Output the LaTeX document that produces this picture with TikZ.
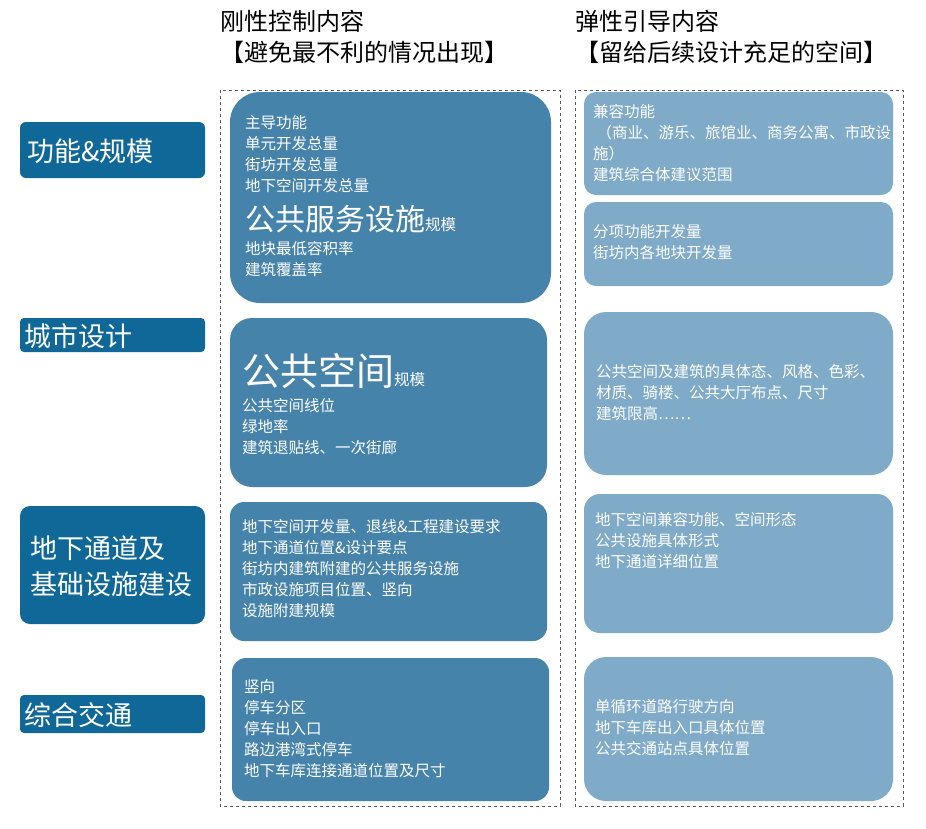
\documentclass[tikz,border=0pt]{standalone}
\usepackage{fontspec}
\setmainfont{Noto Sans CJK SC}
\definecolor{dk}{HTML}{0F6897}
\definecolor{md}{HTML}{4683AA}
\definecolor{lt}{HTML}{7FABC8}
\begin{document}
\begin{tikzpicture}[x=1pt,y=-1pt,
 txt/.style={text=white,anchor=north west,align=left,inner sep=0pt,font=\fontsize{15.5}{21}\selectfont},
 lb/.style={text=white,font=\fontsize{27}{30}\selectfont,anchor=west,inner sep=0pt},
 hd/.style={anchor=north west,align=left,inner sep=0pt,font=\fontsize{24}{31}\selectfont}]
\useasboundingbox (0,0) rectangle (926,828);
\node[hd] (h1) at (220,10) {刚性控制内容\\【避免最不利的情况出现】};
\node[hd] (h2) at (575,10) {弹性引导内容\\【留给后续设计充足的空间】};
\draw[dashed,gray!70!black] (220,90) rectangle (560,806);
\draw[dashed,gray!70!black] (575,90) rectangle (903,806);
% labels
\fill[dk,rounded corners=6pt] (20,122) rectangle (205,178);
\node[lb] (l1) at (27,151) {功能\&规模};
\fill[dk,rounded corners=4pt] (20,318) rectangle (205,352);
\node[lb] (l2) at (24,336) {城市设计};
\fill[dk,rounded corners=10pt] (20,506) rectangle (205,624);
\node[lb,align=left,font=\fontsize{27}{36}\selectfont] (l3) at (30,566) {地下通道及\\基础设施建设};
\fill[dk,rounded corners=4pt] (20,695) rectangle (205,733);
\node[lb] (l4) at (24,715) {综合交通};
% middle
\fill[md,rounded corners=30pt] (230,92) rectangle (551,303);
\node[txt] (m1) at (245,115) {主导功能\\单元开发总量\\街坊开发总量\\地下空间开发总量};
\node[txt,anchor=base west] (m1b) at (245,230) {{\fontsize{30}{36}\selectfont 公共服务设施}规模};
\node[txt] (m1c) at (245,241) {地块最低容积率\\建筑覆盖率};
\fill[md,rounded corners=22pt] (230,318) rectangle (547,487);
\node[txt,anchor=base west] (m2) at (242,385) {{\fontsize{38}{40}\selectfont 公共空间}规模};
\node[txt] (m2b) at (242,398) {公共空间线位\\绿地率\\建筑退贴线、一次街廊};
\fill[md,rounded corners=14pt] (230,502) rectangle (547,641);
\node[txt] (m3) at (242,519) {地下空间开发量、退线\&工程建设要求\\地下通道位置\&设计要点\\街坊内建筑附建的公共服务设施\\市政设施项目位置、竖向\\设施附建规模};
\fill[md,rounded corners=14pt] (232,658) rectangle (549,801);
\node[txt] (m4) at (244,679) {竖向\\停车分区\\停车出入口\\路边港湾式停车\\地下车库连接通道位置及尺寸};
% right
\fill[lt,rounded corners=12pt] (584,92) rectangle (893,195);
\node[txt] (r1) at (593,104) {兼容功能\\\ （商业、游乐、旅馆业、商务公寓、市政设\\施）\\建筑综合体建议范围};
\fill[lt,rounded corners=12pt] (584,202) rectangle (893,286);
\node[txt] (r2) at (593,224) {分项功能开发量\\街坊内各地块开发量};
\fill[lt,rounded corners=22pt] (584,312) rectangle (893,475);
\node[txt] (r3) at (596,364) {公共空间及建筑的具体态、风格、色彩、\\材质、骑楼、公共大厅布点、尺寸\\建筑限高……};
\fill[lt,rounded corners=16pt] (584,494) rectangle (893,633);
\node[txt] (r4) at (595,512) {地下空间兼容功能、空间形态\\公共设施具体形式\\地下通道详细位置};
\fill[lt,rounded corners=22pt] (584,657) rectangle (893,801);
\node[txt] (r5) at (595,699) {单循环道路行驶方向\\地下车库出入口具体位置\\公共交通站点具体位置};
\end{tikzpicture}
\end{document}
